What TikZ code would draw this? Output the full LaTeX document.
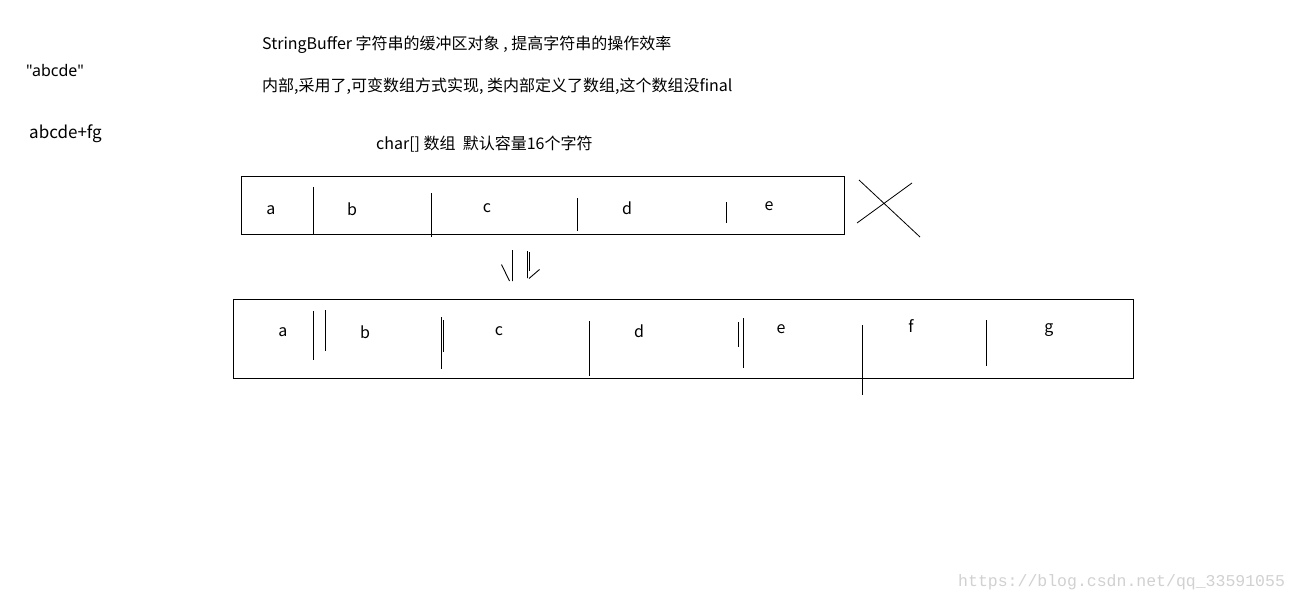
\documentclass[tikz,border=0pt]{standalone}
\usepackage{fontspec}
\setmainfont{Noto Sans CJK SC}
\newfontfamily\latinfont{Noto Sans}
\newfontfamily\wmfont{Liberation Mono}
\begin{document}
\begin{tikzpicture}[x=1pt,y=-1pt,
  lbl/.style={inner sep=0pt, anchor=west, font=\fontsize{16}{18}\selectfont},
  cell/.style={inner sep=0pt, font=\fontsize{16}{18}\selectfont},
  box/.style={draw, line width=0.9pt, inner sep=0pt, outer sep=0pt},
  sep/.style={line width=0.9pt},
  pen/.style={line width=0.9pt}]
\useasboundingbox[fill=white] (0,0) rectangle (1299,603);
% texts
\node[lbl, font=\latinfont\fontsize{16}{18}\selectfont] (q) at (26,70) {"abcde"};
\node[lbl, font=\fontsize{17}{19}\selectfont] (q2) at (29,134) {abcde+fg};
\node[lbl] (t1) at (262,45) {StringBuffer 字符串的缓冲区对象 , 提高字符串的操作效率};
\node[lbl] (t2) at (262,86) {内部,采用了,可变数组方式实现, 类内部定义了数组,这个数组没final};
\node[lbl] (t3) at (376,144) {char[] 数组\ \ 默认容量16个字符};
% top box
\node[box, minimum width=603pt, minimum height=58pt] (top) at (542.5,205) {};
\coordinate (d1a) at (313,187); \coordinate (d1b) at (313,234);
\coordinate (d2a) at (431,193); \coordinate (d2b) at (431,237);
\coordinate (d3a) at (577,198); \coordinate (d3b) at (577,231);
\coordinate (d4a) at (726,202); \coordinate (d4b) at (726,223);
\draw[sep] (d1a) -- (d1b) (d2a) -- (d2b) (d3a) -- (d3b) (d4a) -- (d4b);
\node[cell] (ta) at (271,210) {a};
\node[cell] (tb) at (352,209) {b};
\node[cell] (tc) at (487,208) {c};
\node[cell] (td) at (627,208) {d};
\node[cell] (te) at (769,206) {e};
% cross
\coordinate (x1) at (857,223); \coordinate (x2) at (912,183);
\coordinate (x3) at (859,180); \coordinate (x4) at (920,237);
\draw[pen, line width=0.8pt] (x1) -- (x2) (x3) -- (x4);
% hand-drawn arrows
\coordinate (a1) at (512.5,250); \coordinate (a2) at (512.5,281);
\coordinate (a3) at (501.5,264.5); \coordinate (a4) at (509.5,281);
\coordinate (b1) at (527.5,251); \coordinate (b2) at (527.5,278);
\coordinate (b3) at (539.5,269.5); \coordinate (b4) at (529,278.5);
\coordinate (c1) at (529,252); \coordinate (c2) at (529,271);
\draw[pen] (a1) -- (a2) (a3) -- (a4) (b1) -- (b2) (b3) -- (b4);
\draw[pen, line width=0.7pt] (c1) -- (c2);
% bottom box
\node[box, minimum width=900pt, minimum height=79pt] (bot) at (683,338.5) {};
\coordinate (e1a) at (313.5,311); \coordinate (e1b) at (313.5,360);
\coordinate (e2a) at (325,310); \coordinate (e2b) at (325,351);
\coordinate (e3a) at (441,317); \coordinate (e3b) at (441,369);
\coordinate (e4a) at (443,320); \coordinate (e4b) at (443,352);
\coordinate (e5a) at (589,321); \coordinate (e5b) at (589,376);
\coordinate (e6a) at (738.5,322); \coordinate (e6b) at (738.5,347);
\coordinate (e7a) at (743,318); \coordinate (e7b) at (743,368);
\coordinate (e8a) at (862.5,325); \coordinate (e8b) at (862.5,395);
\coordinate (e9a) at (986.5,320); \coordinate (e9b) at (986.5,366);
\draw[sep] (e1a) -- (e1b) (e2a) -- (e2b) (e3a) -- (e3b) (e4a) -- (e4b)
  (e5a) -- (e5b) (e6a) -- (e6b) (e7a) -- (e7b) (e8a) -- (e8b) (e9a) -- (e9b);
\node[cell] (ba) at (283,332) {a};
\node[cell] (bb) at (365,332) {b};
\node[cell] (bc) at (499,331) {c};
\node[cell] (bd) at (639,331) {d};
\node[cell] (be) at (781,329) {e};
\node[cell] (bf) at (911,326) {f};
\node[cell] (bg) at (1049,330) {g};
% watermark
\node[inner sep=0pt, anchor=west, text=black!18, font=\wmfont\fontsize{16.5}{18}\selectfont] (wm) at (958,582) {https://blog.csdn.net/qq\_33591055};
\end{tikzpicture}
\end{document}
